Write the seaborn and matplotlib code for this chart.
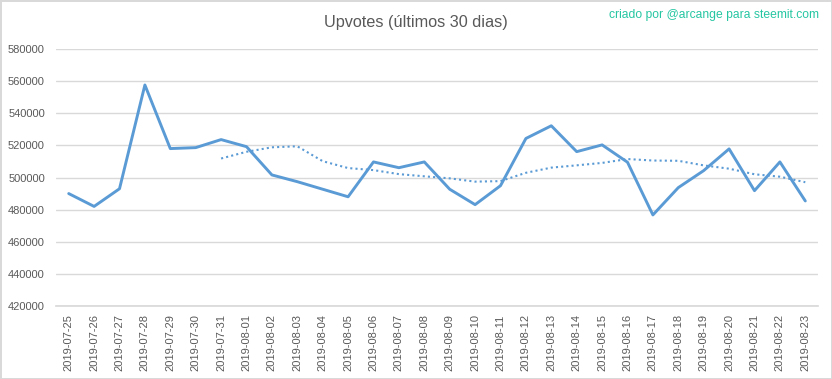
import numpy as np
import pandas as pd
import matplotlib
matplotlib.use("Agg")
import matplotlib.pyplot as plt
import seaborn as sns

# dados
datas = pd.date_range("2019-07-25", "2019-08-23").strftime("%Y-%m-%d").tolist()
upvotes = [490000, 482000, 493000, 557600, 518000, 518600, 523600, 519200, 501600, 497400,
           492700, 488000, 509700, 506100, 509700, 492700, 483100, 494900, 524300, 532200,
           516100, 520300, 509500, 476700, 493700, 504300, 517800, 491800, 509700, 485400]

df = pd.DataFrame({"pos": np.arange(len(datas)), "data": datas, "upvotes": upvotes})
# media movel de 7 periodos (linha de tendencia)
df["media"] = df["upvotes"].rolling(7).mean()

sns.set_theme(style="white")
plt.rcParams["font.family"] = ["Liberation Sans", "DejaVu Sans"]

azul = "#5b9bd5"
cinza = "#595959"

fig = plt.figure(figsize=(8.32, 3.79), dpi=100, linewidth=1, edgecolor="#d9d9d9")
ax = fig.add_axes([56 / 832, 1 - 306 / 379, 762 / 832, 257 / 379])

sns.lineplot(data=df, x="pos", y="upvotes", ax=ax, color=azul, linewidth=2.1)
sns.lineplot(data=df.dropna(), x="pos", y="media", ax=ax, color=azul, linewidth=1.5,
             linestyle=(0, (1, 1.5)))

ax.set_xlim(-0.5, len(datas) - 0.5)
ax.set_ylim(420000, 580000)
ax.set_yticks(np.arange(420000, 580001, 20000))
ax.set_yticklabels([str(v) for v in range(420000, 580001, 20000)])
ax.set_xticks(df["pos"])
ax.set_xticklabels(datas, rotation=90)
ax.tick_params(axis="both", labelsize=8, colors=cinza, length=0, pad=6)
ax.tick_params(axis="y", pad=8)
ax.grid(axis="y", color="#d9d9d9", linewidth=1)
ax.set_axisbelow(True)
for lado in ["top", "right", "left"]:
    ax.spines[lado].set_visible(False)
ax.spines["bottom"].set_color("#d9d9d9")
ax.set_xlabel("")
ax.set_ylabel("")

fig.text(0.5, 1 - 22 / 379, "Upvotes (últimos 30 dias)", ha="center", va="center",
         fontsize=11.7, color=cinza)
fig.text(819 / 832, 1 - 15 / 379, "criado por @arcange para steemit.com", ha="right",
         va="center", fontsize=8.7, color="#26c6a2")

fig.savefig("out.png", dpi=100, edgecolor=fig.get_edgecolor())
